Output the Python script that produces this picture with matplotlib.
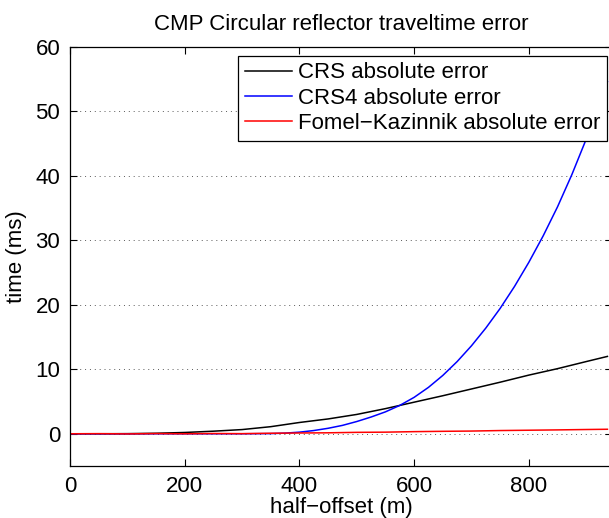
import matplotlib
matplotlib.use("Agg")
from matplotlib import pyplot as plt

plt.rcParams['font.family'] = ['Liberation Sans', 'DejaVu Sans']

# half-offset (m)
x_crs = [0, 50, 100, 150, 200, 250, 300, 350, 400, 450, 500, 550, 600, 650, 700, 750, 800, 850, 900, 937]
crs = [0.0, 0.0, 0.02, 0.08, 0.2, 0.4, 0.65, 1.1, 1.75, 2.3, 3.0, 3.9, 4.9, 5.9, 6.95, 8.0, 9.1, 10.1, 11.2, 12.0]

x_crs4 = [0, 300, 350, 375, 400, 425, 450, 475, 500, 525, 550, 575, 600, 625, 650, 675, 700,
          725, 750, 775, 800, 825, 850, 875, 900, 925, 937]
crs4 = [0.0, 0.0, 0.03, 0.1, 0.25, 0.5, 0.85, 1.3, 1.9, 2.6, 3.4, 4.4, 5.65, 7.2, 9.05, 11.2, 13.65,
        16.4, 19.45, 22.85, 26.6, 30.7, 35.2, 40.2, 45.7, 51.7, 54.6]

x_fk = [0, 50, 100, 150, 200, 250, 300, 350, 400, 450, 500, 550, 600, 650, 700, 750, 800, 850, 900, 937]
fk = [0.0, 0.02, -0.02, 0.03, 0.0, 0.04, 0.02, 0.08, 0.12, 0.15, 0.22, 0.25, 0.33, 0.38, 0.42, 0.5, 0.55, 0.6, 0.66, 0.7]

fig = plt.figure(figsize=(6.09, 5.18), dpi=100)
ax = fig.add_axes([70 / 609, 1 - 466 / 518, (612 - 70) / 609, (466 - 47) / 518])

ax.plot(x_crs, crs, color='k', lw=1.1, label='CRS absolute error')
ax.plot(x_crs4, crs4, color=(0, 0, 1), lw=1.1, label='CRS4 absolute error')
ax.plot(x_fk, fk, color=(1, 0, 0), lw=1.1, label='Fomel\u2212Kazinnik absolute error')

ax.set_xlim(0, 945)
ax.set_ylim(-5, 60)
ax.set_xticks([0, 200, 400, 600, 800])
ax.set_yticks([0, 10, 20, 30, 40, 50, 60])
ax.tick_params(direction='in', length=5, width=0.8, labelsize=16, pad=7,
               top=True, right=True)
ax.yaxis.grid(True, linestyle=(0, (1, 4)), color='0.35', lw=0.7)
for s in ax.spines.values():
    s.set_linewidth(0.9)

ax.set_title('CMP Circular reflector traveltime error', fontsize=16, pad=12)
ax.set_xlabel('half\u2212offset (m)', fontsize=16, labelpad=0)
ax.set_ylabel('time (ms)', fontsize=16, labelpad=6)

leg = ax.legend(loc='upper right', bbox_to_anchor=(607.3 / 609, 1 - 55.7 / 518),
                bbox_transform=fig.transFigure, fontsize=16, fancybox=False,
                framealpha=1, edgecolor='k', borderpad=0.3, labelspacing=0.2,
                handlelength=2.1, handletextpad=0.3, borderaxespad=0)
leg.get_frame().set_linewidth(0.9)

fig.savefig('out.png', dpi=100)
